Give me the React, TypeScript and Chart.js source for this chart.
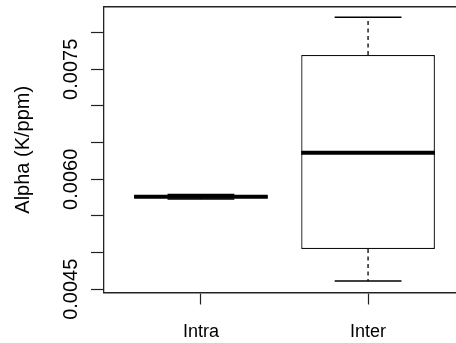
import { useEffect, useRef } from "react";
import { Chart, registerables } from "chart.js";

Chart.register(...registerables);

const categories = ["Intra", "Inter"];
const whiskerLow = [0.005731, 0.004613];
const quartile1 = [0.00575, 0.00505];
const medians = [0.005763, 0.006363];
const quartile3 = [0.00577, 0.007695];
const whiskerHigh = [0.005793, 0.008209];
const yTickValues = [0.0045, 0.005, 0.0055, 0.006, 0.0065, 0.007, 0.0075, 0.008];
const yTickLabels = ["0.0045", "", "", "0.0060", "", "", "0.0075", ""];
const yAxisTitle = "Alpha (K/ppm)";

const FONT = '"Liberation Sans", Arial, sans-serif';

const boxPlugin = {
  id: "boxParts",
  afterDatasetsDraw(chart: any) {
    const { ctx, scales } = chart;
    const x = scales.x;
    const y = scales.y;
    const line = (x1: number, y1: number, x2: number, y2: number) => {
      ctx.beginPath();
      ctx.moveTo(x1, y1);
      ctx.lineTo(x2, y2);
      ctx.stroke();
    };
    ctx.save();
    ctx.strokeStyle = "#000";
    categories.forEach((_, i) => {
      const pos = i + 1;
      const cx = x.getPixelForValue(pos);
      const bl = x.getPixelForValue(pos - 0.4);
      const br = x.getPixelForValue(pos + 0.4);
      const cl = x.getPixelForValue(pos - 0.2);
      const cr = x.getPixelForValue(pos + 0.2);
      const yMin = y.getPixelForValue(whiskerLow[i]);
      const yMax = y.getPixelForValue(whiskerHigh[i]);
      const yQ1 = y.getPixelForValue(quartile1[i]);
      const yQ3 = y.getPixelForValue(quartile3[i]);
      const yMed = y.getPixelForValue(medians[i]);
      ctx.lineWidth = 1.3;
      ctx.setLineDash([4, 3.5]);
      line(cx, yQ3, cx, yMax);
      line(cx, yQ1, cx, yMin);
      ctx.setLineDash([]);
      ctx.lineWidth = 1.5;
      line(cl, yMax, cr, yMax);
      line(cl, yMin, cr, yMin);
      ctx.lineWidth = 4;
      line(bl, yMed, br, yMed);
    });
    ctx.fillStyle = "#000";
    ctx.font = `20px ${FONT}`;
    ctx.textAlign = "center";
    ctx.textBaseline = "alphabetic";
    yTickValues.forEach((v, i) => {
      const label = yTickLabels[i];
      if (!label) return;
      ctx.save();
      ctx.translate(chart.chartArea.left - 27.3, y.getPixelForValue(v));
      ctx.rotate(-Math.PI / 2);
      ctx.fillText(label, 0, 0);
      ctx.restore();
    });
    ctx.restore();
  },
};

export default function App() {
  const ref = useRef<HTMLCanvasElement>(null);
  useEffect(() => {
    Chart.defaults.font.family = FONT;
    const chart = new Chart(ref.current as HTMLCanvasElement, {
      type: "bar",
      data: {
        datasets: [
          {
            data: categories.map((_, i) => ({ x: i + 1, y: [quartile1[i], quartile3[i]] })) as any,
            backgroundColor: "#fff",
            borderColor: "#111",
            borderWidth: 1.3,
            borderSkipped: false,
            barPercentage: 0.8,
            categoryPercentage: 1,
            xAxisID: "x",
            yAxisID: "y",
          },
        ],
      },
      options: {
        responsive: false,
        devicePixelRatio: 1,
        animation: false,
        events: [],
        layout: { padding: { left: 0, top: 7, right: 1, bottom: 0 } },
        plugins: { legend: { display: false }, tooltip: { enabled: false } },
        scales: {
          x: {
            type: "linear",
            position: "bottom",
            offset: false,
            min: 0.42,
            max: 2.58,
            afterBuildTicks: (s: any) => {
              s.ticks = categories.map((_, i) => ({ value: i + 1 }));
            },
            afterFit: (s: any) => {
              s.height = 50.5;
            },
            ticks: {
              callback: (_v: any, idx: number) => categories[idx] ?? "",
              font: { size: 18, family: FONT },
              color: "#000",
              padding: 17,
              maxRotation: 0,
              minRotation: 0,
              autoSkip: false,
            },
            grid: { offset: false, drawOnChartArea: false, tickLength: 12, tickColor: "#222", tickWidth: 1.2 },
            border: { color: "#222", width: 1.6 },
          },
          x2: {
            type: "linear",
            position: "top",
            offset: false,
            min: 0.42,
            max: 2.58,
            ticks: { display: false },
            grid: { offset: false, drawOnChartArea: false, drawTicks: false, tickLength: 0 },
            border: { color: "#222", width: 1.5 },
            afterFit: (s: any) => {
              s.height = 0;
            },
          },
          y: {
            type: "linear",
            min: 0.004456,
            max: 0.00835,
            afterBuildTicks: (s: any) => {
              s.ticks = yTickValues.map((v) => ({ value: v }));
            },
            afterFit: (s: any) => {
              s.width = 104;
            },
            ticks: { display: false },
            title: {
              display: true,
              text: yAxisTitle,
              color: "#000",
              font: { size: 20, family: FONT },
              padding: { top: 11, bottom: 0 },
            },
            grid: { drawOnChartArea: false, tickLength: 13, tickColor: "#222", tickWidth: 1.2 },
            border: { color: "#222", width: 1.3 },
          },
        },
      } as any,
      plugins: [boxPlugin],
    });
    return () => chart.destroy();
  }, []);
  return (
    <div
      style={{
        position: "fixed",
        left: 0,
        top: 0,
        width: 456,
        height: 343,
        overflow: "hidden",
        background: "#fff",
      }}
    >
      <canvas ref={ref} width={466} height={343} style={{ display: "block", width: 466, height: 343 }} />
    </div>
  );
}
